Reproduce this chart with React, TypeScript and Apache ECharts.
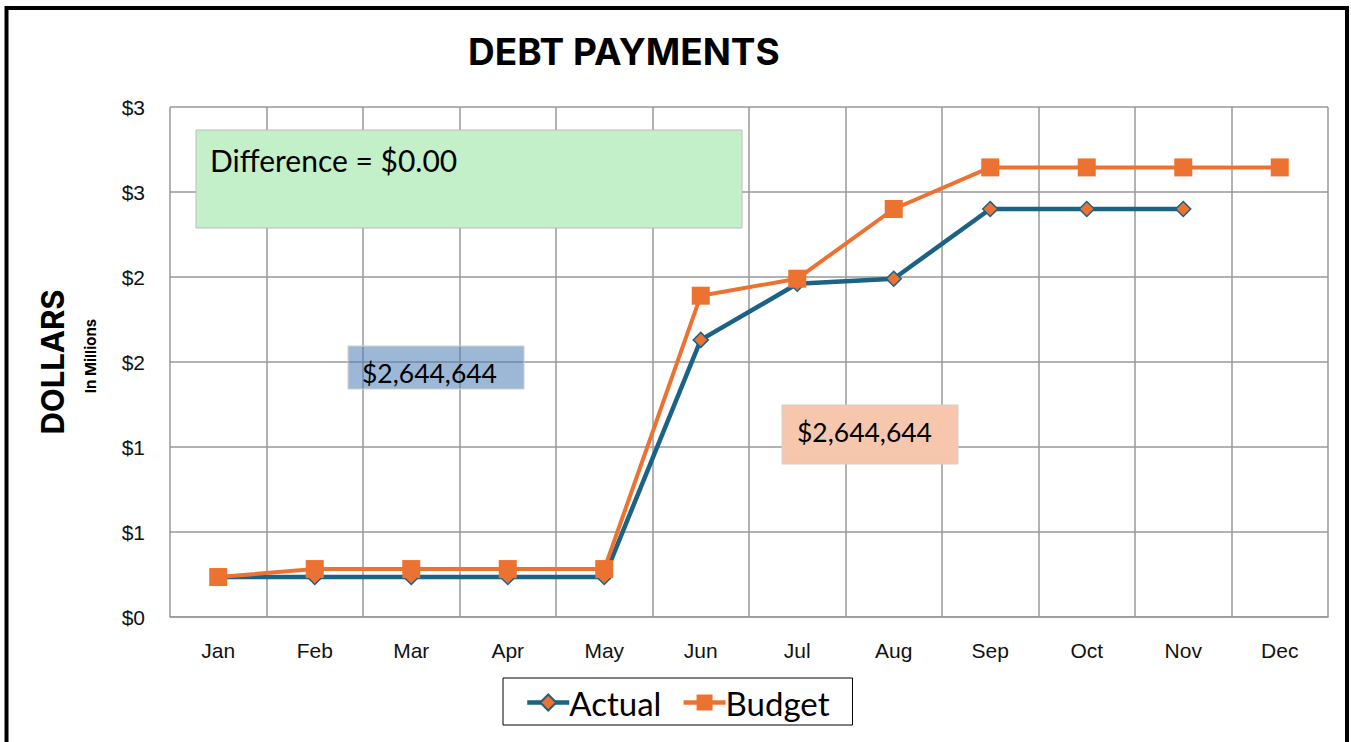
import React, { useEffect, useRef } from "react";
import * as echarts from "echarts";

const months = ["Jan", "Feb", "Mar", "Apr", "May", "Jun", "Jul", "Aug", "Sep", "Oct", "Nov", "Dec"];
const actual: (number | null)[] = [235000, 235000, 235000, 235000, 235000, 1630000, 1960000, 1990000, 2400000, 2400000, 2400000, null];
const budget: number[] = [235000, 282000, 282000, 282000, 282000, 1890000, 1990000, 2400000, 2644644, 2644644, 2644644, 2644644];
const yTicks = { min: 0, max: 3000000, interval: 500000 };
const titleText = "DEBT PAYMENTS";
const differenceText = "Difference = $0.00";
const actualLabel = "$2,644,644";
const budgetLabel = "$2,644,644";

const BLUE = "#1b6284";
const ORANGE = "#ec7232";

export default function App() {
  const ref = useRef<HTMLDivElement>(null);
  useEffect(() => {
    if (!ref.current) return;
    const chart = echarts.init(ref.current, undefined, { renderer: "svg" });
    chart.setOption({
      animation: false,
      backgroundColor: "#ffffff",
      title: {
        text: titleText,
        left: 463,
        top: 28,
        textStyle: { fontFamily: "Inter", fontWeight: "bold", fontSize: 37, color: "#000" },
      },
      grid: { left: 170, right: 23, top: 107, bottom: 125, containLabel: false },
      legend: {
        data: ["Actual", "Budget"],
        left: 503,
        top: 678,
        borderColor: "#000",
        borderWidth: 1,
        padding: [8, 23, 6, 22],
        itemWidth: 42,
        itemHeight: 20,
        itemGap: 20,
        lineStyle: { width: 4.5 },
        textStyle: { fontFamily: "Lato", fontSize: 33, color: "#000", padding: [0, 0, 0, -5] },
      },
      xAxis: {
        type: "category",
        data: months,
        boundaryGap: true,
        axisLine: { show: true, lineStyle: { color: "#999", width: 1.5 } },
        axisTick: { show: false },
        axisLabel: { fontFamily: "Liberation Sans", fontSize: 21, color: "#111", margin: 23 },
        splitLine: { show: true, interval: 0, lineStyle: { color: "#999", width: 1.5 } },
      },
      yAxis: {
        type: "value",
        min: yTicks.min,
        max: yTicks.max,
        interval: yTicks.interval,
        axisLine: { show: false },
        axisTick: { show: false },
        axisLabel: {
          fontFamily: "Liberation Sans",
          fontSize: 21,
          color: "#111",
          margin: 25,
          formatter: (v: number) => "$" + Math.round(v / 1000000),
        },
        splitLine: { show: true, lineStyle: { color: "#999", width: 1.5 } },
      },
      series: [
        {
          name: "Actual",
          type: "line",
          data: actual,
          connectNulls: false,
          symbol: "diamond",
          symbolSize: 15,
          lineStyle: { color: BLUE, width: 4.5 },
          itemStyle: { color: ORANGE, borderColor: BLUE, borderWidth: 1.5 },
          z: 3,
        },
        {
          name: "Budget",
          type: "line",
          data: budget,
          symbol: "rect",
          symbolSize: 18,
          lineStyle: { color: ORANGE, width: 4 },
          itemStyle: { color: ORANGE, borderColor: ORANGE, borderWidth: 0 },
          z: 4,
        },
      ],
      graphic: [
        {
          type: "rect",
          z: 100,
          shape: { x: 6.5, y: 8, width: 1340.5, height: 780 },
          style: { fill: "none", stroke: "#000", lineWidth: 4 },
          silent: true,
        },
        {
          type: "rect",
          z: 100,
          shape: { x: 196, y: 130, width: 546, height: 98 },
          style: { fill: "#c3efc9", stroke: "#bdbdbd", lineWidth: 1 },
        },
        {
          type: "text",
          z: 101,
          x: 210,
          y: 160,
          style: { text: differenceText, font: "30px Lato", fill: "#000", textVerticalAlign: "middle" },
        },
        {
          type: "rect",
          z: 100,
          shape: { x: 348, y: 346, width: 176, height: 43 },
          style: { fill: "rgba(75,125,180,0.55)", stroke: "#cfcfcf", lineWidth: 1 },
        },
        {
          type: "text",
          z: 101,
          x: 362,
          y: 373,
          style: { text: actualLabel, font: "26.5px Lato", fill: "#000", textVerticalAlign: "middle" },
        },
        {
          type: "rect",
          z: 100,
          shape: { x: 782, y: 405, width: 176, height: 59 },
          style: { fill: "#f6c7ad", stroke: "#cfcfcf", lineWidth: 1 },
        },
        {
          type: "text",
          z: 101,
          x: 797,
          y: 432,
          style: { text: budgetLabel, font: "26.5px Lato", fill: "#000", textVerticalAlign: "middle" },
        },
        {
          type: "text",
          z: 101,
          x: 52,
          y: 362,
          rotation: Math.PI / 2,
          style: { text: "DOLLARS", font: "bold 31px Inter", fill: "#000", textAlign: "center", textVerticalAlign: "middle" },
        },
        {
          type: "text",
          z: 101,
          x: 90,
          y: 356,
          rotation: Math.PI / 2,
          style: { text: "In Millions", font: "bold 15px Inter", fill: "#000", textAlign: "center", textVerticalAlign: "middle" },
        },
      ],
    });
    return () => chart.dispose();
  }, []);
  return (
    <div
      ref={ref}
      style={{ position: "fixed", left: 0, top: 0, width: 1351, height: 742 }}
    />
  );
}
